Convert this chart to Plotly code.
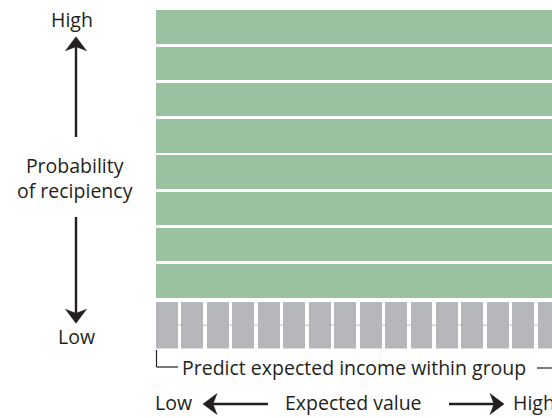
import plotly.graph_objects as go
import math

W, H = 552, 418

# ---- data ----
prob_groups = [0, 1, 2, 3, 4, 5, 6, 7]          # probability-of-recipiency groups (top = high)
band_extent = [1, 1, 1, 1, 1, 1, 1, 1]            # each band spans the full width
income_cells = list(range(16))                     # expected-income cells in the bottom group
cell_extent = [1] * 16
left_labels = ["High", "Probability<br>of recipiency", "Low"]
bracket_label = "Predict expected income within group"
bottom_labels = ["Low", "Expected value", "High"]

GREEN = "#9bc2a0"
GREY = "#b6b7bb"
INK = "#231f20"
FONT = "Open Sans"
FS = 19.5


def px(x):
    return x / W


def py(y):
    return 1 - y / H


fig = go.Figure()

fig.add_trace(go.Bar(
    y=prob_groups, x=[v * 40 for v in band_extent], base=-5, orientation="h",
    width=0.93, marker=dict(color=GREEN, line=dict(width=0)),
    xaxis="x", yaxis="y", hoverinfo="skip", showlegend=False))

fig.add_trace(go.Bar(
    x=income_cells, y=cell_extent, base=0, width=0.864,
    marker=dict(color=GREY, line=dict(width=0)),
    xaxis="x", yaxis="y2", hoverinfo="skip", showlegend=False))

shapes = []
# faint line through the grey cells
shapes.append(dict(type="line", xref="paper", yref="y2", x0=px(156), x1=1, y0=0.5, y1=0.5,
                   line=dict(color="#d2d3d6", width=1.5), layer="below"))


def arrow(x0, y0, x1, y1):
    """shaft from (x0,y0) to tip (x1,y1), pixel coords"""
    dx, dy = x1 - x0, y1 - y0
    L = math.hypot(dx, dy)
    ux, uy = dx / L, dy / L
    nx, ny = -uy, ux
    hl, hw, notch = 14.0, 10.5, 10.0
    sx, sy = x1 - ux * notch, y1 - uy * notch
    shapes.append(dict(type="line", xref="paper", yref="paper",
                       x0=px(x0), y0=py(y0), x1=px(sx), y1=py(sy),
                       line=dict(color=INK, width=2.4)))
    pts = [(x1, y1),
           (x1 - ux * hl + nx * hw, y1 - uy * hl + ny * hw),
           (sx, sy),
           (x1 - ux * hl - nx * hw, y1 - uy * hl - ny * hw)]
    path = "M " + " L ".join(f"{px(a):.5f},{py(b):.5f}" for a, b in pts) + " Z"
    shapes.append(dict(type="path", xref="paper", yref="paper", path=path,
                       fillcolor=INK, line=dict(color=INK, width=0.5)))


arrow(76, 137, 76, 36.7)
arrow(76, 217, 76, 323.3)
arrow(268, 404, 203, 404)
arrow(449, 404, 504, 404)

# bracket
for (a, b, c, d) in [(156.5, 350, 156.5, 367), (156.5, 367, 178, 367), (537, 368, 560, 368)]:
    shapes.append(dict(type="line", xref="paper", yref="paper",
                       x0=px(a), y0=py(b), x1=px(c), y1=py(d),
                       line=dict(color=INK, width=1.2)))

ann = []


def text(t, x, y, xanchor="center"):
    ann.append(dict(text=t, x=px(x), y=py(y), xref="paper", yref="paper",
                    xanchor=xanchor, yanchor="middle", showarrow=False,
                    font=dict(family=FONT, size=FS, color=INK)))


text(left_labels[0], 72, 19.7)
text(left_labels[1], 75, 178)
text(left_labels[2], 76, 336)
text(bracket_label, 180, 367.5, "left")
text(bottom_labels[0], 153, 402.5, "left")
text(bottom_labels[1], 283, 402.5, "left")
text(bottom_labels[2], 511, 402.5, "left")

fig.update_layout(
    width=W, height=H, margin=dict(l=0, r=0, t=0, b=0),
    paper_bgcolor="white", plot_bgcolor="white",
    bargap=0, showlegend=False,
    xaxis=dict(domain=[px(156), 1], range=[-0.432, 15.128], visible=False, fixedrange=True),
    yaxis=dict(domain=[py(298.7), py(8.7)], range=[7.5, -0.5], visible=False, fixedrange=True),
    yaxis2=dict(domain=[py(348.5), py(302)], range=[0, 1], visible=False, fixedrange=True),
    shapes=shapes, annotations=ann,
)

fig.write_html("out.html", config={"displayModeBar": False},
               post_script="document.body.style.margin='0';document.documentElement.style.margin='0';document.body.style.overflow='hidden';")
